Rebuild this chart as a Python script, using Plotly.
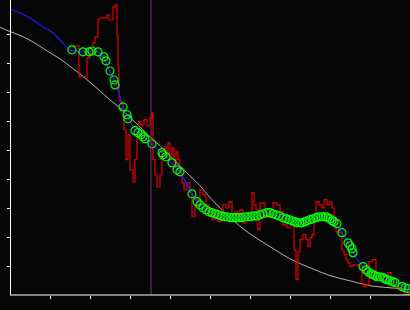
import plotly.graph_objects as go

# Smooth gray reference curve
gray_x = [-2.5, 0, 2.5, 5, 7.5, 10, 12.5, 15, 17.5, 20, 22.5, 25, 27.5, 30, 32.5, 35, 37.5, 40,
          42.5, 45, 47.5, 50, 52.5, 55, 60, 65, 70, 75, 80, 85, 90, 95, 100]
gray_y = [9.24, 9.09, 8.96, 8.79, 8.58, 8.36, 8.15, 7.89, 7.63, 7.34, 7.04, 6.73, 6.46, 6.13, 5.80,
          5.46, 5.15, 4.80, 4.46, 4.11, 3.77, 3.36, 3.01, 2.67, 2.11, 1.67, 1.25, 0.94, 0.67, 0.49,
          0.32, 0.25, 0.18]

# Blue smooth fit
blue_x = [0, 2.5, 5.75, 8.25, 10.75, 13.25, 15, 18.25, 21.75, 23.25, 25, 26.25, 27.5, 28.25, 29.5,
          31.25, 33.75, 35.5, 38, 40, 42.5, 44, 45.5, 46.75, 48.25, 50.75, 54.25, 59.25, 63.25, 67.5,
          70, 72.5, 75.75, 78.25, 80.75, 83, 84.5, 85.75, 88.25, 90.75, 94.25, 96.75, 98.75, 100]
blue_y = [9.86, 9.73, 9.49, 9.25, 9.04, 8.70, 8.46, 8.39, 8.39, 8.22, 7.70, 7.36, 6.84, 6.49, 6.15,
          5.70, 5.39, 5.18, 4.91, 4.60, 4.25, 3.87, 3.49, 3.22, 3.01, 2.84, 2.70, 2.70, 2.84, 2.70,
          2.60, 2.49, 2.63, 2.70, 2.49, 2.15, 1.80, 1.46, 0.98, 0.70, 0.53, 0.43, 0.25, 0.18]

# Red noisy step signal
red_x = [15.75, 17.25, 19.25, 20, 20.75, 21.25, 22, 22.5, 24.25, 24.75, 25.75, 26.25, 26.75, 27,
         27.25, 27.75, 28.25, 28.5, 29, 29.5, 30, 30.75, 31.25, 31.75, 32.25, 32.75, 33.5, 34.25,
         35, 35.5, 35.75, 36.25, 36.75, 37.5, 38, 38.5, 39, 39.5, 40, 40.5, 41, 41.5, 42, 42.5, 43,
         43.5, 44.25, 45, 45.5, 46.25, 46.75, 47.5, 48.25, 49, 49.75, 50.5, 51.25, 52, 52.75, 53.25,
         54, 54.75, 55.5, 56.25, 57, 57.5, 58.25, 59, 59.75, 60.5, 61, 61.5, 62, 62.5, 63.75, 64.5,
         65.25, 65.75, 66.75, 67.5, 68.25, 69.25, 70.25, 71, 71.5, 72, 72.5, 73.25, 74, 74.5, 75,
         75.5, 76, 76.5, 77.25, 78, 78.5, 79.25, 80, 80.5, 81, 81.5, 82.5, 83, 83.5, 84, 84.5, 85,
         85.75, 87, 87.5, 88, 88.5, 89, 89.75, 90.5, 91.5, 92.5, 93.5, 94.5, 95.25, 96, 97.5, 98.5,
         99.5, 100]
red_y = [8.60, 7.53, 8.18, 8.35, 8.70, 8.91, 9.49, 9.56, 9.67, 9.49, 9.94, 10.01, 8.94, 7.84, 6.73,
         6.63, 6.39, 5.70, 4.67, 5.53, 4.32, 3.91, 4.67, 5.46, 5.98, 5.87, 6.05, 5.84, 6.11, 6.29,
         4.67, 4.15, 3.73, 4.15, 5.01, 5.11, 4.73, 5.25, 4.84, 5.08, 4.49, 4.94, 4.67, 4.32, 3.87,
         3.63, 3.87, 3.53, 2.70, 3.11, 3.29, 3.63, 3.46, 3.11, 2.77, 2.60, 2.94, 2.53, 2.87, 3.11,
         3.01, 3.22, 2.77, 2.87, 2.67, 2.94, 2.49, 2.67, 2.87, 3.53, 3.11, 2.94, 2.25, 3.18, 2.84,
         2.67, 2.94, 3.18, 3.11, 2.87, 2.42, 2.32, 2.42, 1.56, 0.53, 1.49, 1.91, 2.08, 1.91, 1.67,
         1.98, 2.08, 2.60, 3.22, 3.11, 3.01, 3.29, 3.11, 3.22, 3.01, 2.67, 2.18, 2.15, 1.56, 1.39,
         1.22, 1.11, 0.98, 1.04, 1.01, 0.87, 0.39, 0.29, 0.35, 1.15, 1.22, 0.63, 0.70, 0.63, 0.77,
         0.35, 0.25, 0.18, 0.03, 0.02, 0.02]

# Green sample points
pts_x = [15.5, 18.25, 19.75, 20.5, 22, 23.5, 24, 25, 26, 26.25, 28.25, 29.25, 29.5, 31.25, 32,
         32.75, 33.25, 33.75, 35.5, 38, 38.25, 39, 40.5, 41.75, 42.5, 45.5, 46.75, 47.5, 48.25, 49,
         49.75, 50.5, 51.25, 52, 52.75, 53.5, 54.25, 55, 55.75, 56.5, 57.25, 58, 58.75, 59.5, 60.25,
         61, 61.75, 62.5, 63.25, 64.25, 65, 65.75, 66.5, 67.25, 68.25, 69, 69.75, 70.5, 71.25,
         71.75, 72.5, 73, 73.75, 74.25, 75, 75.75, 76.5, 77, 77.75, 78.25, 79, 79.5, 80, 80.5, 81,
         81.75, 83, 84.5, 85, 85.5, 85.75, 88.25, 89, 89.5, 90.25, 90.75, 91.25, 91.75, 92.5,
         93.25, 93.75, 94.25, 95, 95.75, 96.25, 98, 98.75, 99.5]
pts_y = [8.46, 8.39, 8.39, 8.42, 8.39, 8.22, 8.08, 7.73, 7.42, 7.25, 6.49, 6.22, 6.08, 5.67, 5.60,
         5.53, 5.46, 5.39, 5.22, 4.91, 4.84, 4.77, 4.56, 4.32, 4.25, 3.49, 3.22, 3.11, 3.01, 2.94,
         2.87, 2.84, 2.80, 2.77, 2.73, 2.70, 2.70, 2.67, 2.67, 2.67, 2.67, 2.67, 2.70, 2.70, 2.70,
         2.73, 2.73, 2.77, 2.80, 2.84, 2.84, 2.80, 2.77, 2.73, 2.67, 2.63, 2.60, 2.56, 2.53, 2.49,
         2.49, 2.49, 2.53, 2.56, 2.60, 2.63, 2.67, 2.70, 2.70, 2.70, 2.70, 2.67, 2.63, 2.56, 2.53,
         2.46, 2.15, 1.80, 1.70, 1.60, 1.46, 0.98, 0.87, 0.80, 0.73, 0.70, 0.67, 0.63, 0.63, 0.60,
         0.56, 0.53, 0.49, 0.46, 0.43, 0.29, 0.25, 0.22]

cursor_x = 35.25
x_ticks = [10, 20, 30, 40, 50, 60, 70, 80, 90]
y_ticks = [1, 2, 3, 4, 5, 6, 7, 8, 9]

fig = go.Figure()
fig.add_trace(go.Scatter(x=gray_x, y=gray_y, mode="lines", line=dict(color="#b0b0b0", width=1, shape="spline"),
                         hoverinfo="skip"))
fig.add_trace(go.Scatter(x=red_x, y=red_y, mode="lines", line=dict(color="#e00000", width=1.2, shape="hv"),
                         hoverinfo="skip"))
fig.add_trace(go.Scatter(x=blue_x, y=blue_y, mode="lines", line=dict(color="#1a1aff", width=1.2, shape="spline"),
                         hoverinfo="skip"))
fig.add_trace(go.Scatter(x=pts_x, y=pts_y, mode="markers",
                         marker=dict(symbol="circle-open", size=8, color="#00ff00", line=dict(width=1.2, color="#00ff00")),
                         hoverinfo="skip"))

fig.add_shape(type="line", xref="x", yref="paper", x0=cursor_x, x1=cursor_x, y0=0, y1=1,
              line=dict(color="#7a307a", width=1))
fig.add_shape(type="line", xref="x", yref="paper", x0=0, x1=100, y0=0, y1=0,
              line=dict(color="#ffffff", width=1))

fig.update_layout(
    width=410, height=310,
    margin=dict(l=0, r=0, t=0, b=15),
    paper_bgcolor="#060606", plot_bgcolor="#060606",
    showlegend=False,
    xaxis=dict(range=[-2.5, 100], showgrid=False, zeroline=False, showline=False,
               ticks="outside", ticklen=3, tickwidth=1, tickcolor="#ffffff",
               tickvals=x_ticks, showticklabels=False, fixedrange=True),
    yaxis=dict(range=[0, 10.18], showgrid=False, zeroline=False, showline=True,
               linecolor="#ffffff", linewidth=1, anchor="free", position=10 / 410,
               ticks="outside", ticklen=3, tickwidth=1, tickcolor="#ffffff",
               tickvals=y_ticks, showticklabels=False, fixedrange=True),
)

fig.write_html("out.html")
